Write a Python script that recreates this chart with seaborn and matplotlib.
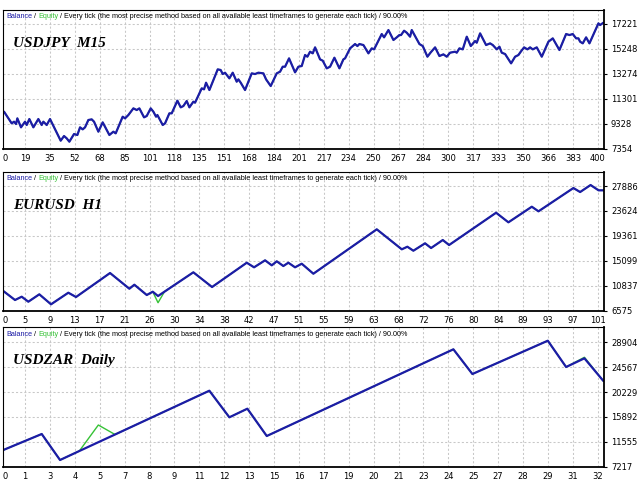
import matplotlib
import matplotlib.pyplot as plt
import seaborn as sns
from matplotlib.offsetbox import AnchoredOffsetbox, HPacker, TextArea

matplotlib.use("Agg")

# USDJPY M15 (x in tick-slot units of the strategy tester axis)
usdjpy_x = [0.157, 0.465, 0.558, 0.639, 0.692, 0.839, 1.0, 1.067, 1.174, 1.335,
            1.535, 1.669, 1.736, 1.870, 2.004, 2.432, 2.566, 2.673, 2.78, 2.968,
            3.102, 3.209, 3.316, 3.41, 3.543, 3.677, 3.771, 3.945, 4.119, 4.387,
            4.547, 4.641, 4.922, 5.016, 5.15, 5.351, 5.485, 5.592, 5.779, 5.886,
            6.047, 6.154, 6.261, 6.315, 6.529, 6.623, 6.796, 6.89, 7.118, 7.252,
            7.359, 7.493, 7.6, 7.76, 7.827, 8.095, 8.189, 8.269, 8.403, 8.738,
            8.858, 8.938, 9.032, 9.206, 9.34, 9.5, 9.567, 9.661, 9.835, 10.103,
            10.237, 10.371, 10.571, 10.679, 10.866, 11.107, 11.241, 11.348, 11.442, 11.602,
            11.843, 11.977, 12.111, 12.245, 12.339, 12.446, 12.553, 12.647, 12.847, 12.955,
            13.115, 13.249, 13.423, 13.624, 13.784, 13.851, 14.052, 14.253, 14.347, 14.427,
            14.588, 14.789, 14.923, 15.016, 15.324, 15.418, 15.592, 15.793, 15.927, 16.033,
            16.1, 16.221, 16.328, 16.462, 16.529, 16.837, 16.971, 17.158, 17.292, 17.466,
            17.64, 17.8, 17.934, 18.068, 18.269, 18.336, 18.443, 18.577, 18.738, 18.899,
            19.072, 19.139, 19.273, 19.514, 19.675, 19.782, 19.943, 20.05, 20.143, 20.277,
            20.518, 20.679, 20.812, 20.906, 21.04, 21.174, 21.281, 21.388, 21.549, 21.75,
            22.017, 22.192, 22.459, 22.727, 22.861, 22.995, 23.129, 23.222, 23.289, 23.396,
            23.53, 23.664, 24.025, 24.092, 24.226]
usdjpy_balance = [10261, 9341, 9472, 9288, 9735, 9025, 9472, 9209, 9682, 9025,
                  9682, 9209, 9472, 9209, 9682, 7972, 8341, 8157, 7893, 8498,
                  8420, 9025, 8867, 9025, 9604, 9656, 9472, 8683, 9419, 8420,
                  8683, 8551, 9867, 9735, 9998, 10524, 10393, 10524, 9814, 9919,
                  10524, 10261, 9867, 9998, 9209, 9341, 10130, 10130, 11129, 10603,
                  10709, 11103, 10603, 11051, 10971, 12103, 12024, 12550, 11971, 13603,
                  13550, 13234, 13339, 12892, 13339, 12629, 12813, 12550, 11971, 13287,
                  13234, 13339, 13287, 12813, 12287, 13287, 13418, 13813, 13813, 14471,
                  13366, 13813, 13866, 14734, 14602, 14997, 14866, 15339, 14392, 14286,
                  13682, 13813, 14523, 13682, 14392, 14471, 15260, 15602, 15444, 15602,
                  15523, 14866, 15260, 15181, 16391, 16129, 16707, 15918, 16129, 16313,
                  16313, 16654, 16496, 16181, 16707, 15602, 15444, 14602, 14945, 15339,
                  14655, 14787, 14602, 14918, 14997, 14918, 15260, 15181, 16181, 15444,
                  15839, 15707, 16444, 15523, 15655, 15523, 15181, 15391, 14918, 14813,
                  14076, 14602, 14734, 14997, 15339, 15181, 15339, 15181, 15339, 14602,
                  15786, 16050, 15129, 16391, 16313, 16391, 16050, 16050, 15786, 15655,
                  16129, 15655, 17234, 17102, 17286]
usdjpy_equity = usdjpy_balance
usdjpy_xlabels = ["0", "19", "35", "52", "68", "85", "101", "118", "135", "151", "168", "184", "201",
                  "217", "234", "250", "267", "284", "300", "317", "333", "350", "366", "383", "400"]
usdjpy_yticks = [7354, 9328, 11301, 13274, 15248, 17221]

# EURUSD H1
eurusd_x = [0.129, 0.598, 0.867, 1.133, 1.574, 2.044, 2.739, 3.048, 4.414, 5.189,
            5.39, 5.888, 6.129, 6.341, 6.6, 7.759, 8.51, 9.904, 10.197, 10.639,
            10.908, 11.109, 11.373, 11.574, 11.843, 12.112, 12.578, 15.124, 16.129, 16.353,
            16.594, 17.064, 17.305, 17.775, 18.028, 19.916, 20.41, 21.35, 21.618, 23.02,
            23.29, 23.71, 24.03, 24.25]
eurusd_balance = [9913, 8373, 8938, 8082, 9348, 7636, 9622, 8886, 12995, 10307,
                  10992, 9229, 9794, 9057, 9800, 13115, 10598, 14758, 13971, 15169,
                  14313, 14998, 14193, 14758, 13971, 14587, 12875, 20476, 17052, 17498,
                  16813, 18080, 17275, 18645, 17789, 23318, 21675, 24346, 23558, 27547,
                  26862, 28061, 27153, 27153]
eurusd_equity = [9913, 8373, 8938, 8082, 9348, 7636, 9622, 8886, 12995, 10307,
                 10992, 9229, 9794, 7910, 9800, 13115, 10598, 14758, 13971, 15169,
                 14313, 14998, 14193, 14758, 13971, 14587, 12875, 20476, 17052, 17498,
                 16813, 18080, 17275, 18645, 17789, 23318, 21675, 24346, 23558, 27547,
                 26862, 28061, 27153, 27153]
eurusd_xlabels = ["0", "5", "9", "13", "17", "21", "26", "30", "34", "38", "42", "47", "51",
                  "55", "59", "63", "68", "72", "76", "80", "84", "89", "93", "97", "101"]
eurusd_yticks = [6575, 10837, 15099, 19361, 23624, 27886]

# USDZAR Daily
usdzar_x = [0.129, 1.671, 2.406, 3.181, 3.944, 4.614, 8.402, 9.205, 9.928, 10.707,
            18.201, 18.964, 21.992, 22.727, 23.462, 24.225]
usdzar_balance = [10126, 12913, 8384, 9952, 11485, 12826, 20456, 15822, 17321, 12565,
                  27668, 23365, 29166, 24585, 26100, 22146]
usdzar_equity = [10126, 12913, 8384, 9952, 14481, 12826, 20456, 15822, 17321, 12565,
                 27668, 23365, 29166, 24585, 26280, 22146]
usdzar_xlabels = ["0", "1", "3", "4", "5", "7", "8", "9", "11", "12", "13", "15", "16",
                  "17", "19", "20", "21", "23", "24", "25", "27", "28", "29", "31", "32"]
usdzar_yticks = [7217, 11555, 15892, 20229, 24567, 28904]

BALANCE_COLOR = "#1c1ca6"
EQUITY_COLOR = "#36c236"
HEADER = " / Every tick (the most precise method based on all available least timeframes to generate each tick) / 90.00%"

sns.set_style("white")
plt.rcParams["font.family"] = "DejaVu Sans"


def draw_panel(ax, title, xs, balance, equity, xlabels, yticks, ytop):
    sns.lineplot(x=xs, y=equity, ax=ax, color=EQUITY_COLOR, linewidth=1.0,
                 sort=False, estimator=None)
    sns.lineplot(x=xs, y=balance, ax=ax, color=BALANCE_COLOR, linewidth=1.6,
                 sort=False, estimator=None)

    ax.set_xlim(0.116, 24.25)
    ax.set_ylim(yticks[0], ytop)
    ax.set_xticks([0.2] + list(range(1, 25)))
    ax.set_xticklabels(xlabels)
    ax.set_yticks(yticks)
    ax.set_yticklabels([str(v) for v in yticks])
    ax.yaxis.tick_right()
    ax.tick_params(axis="both", direction="out", length=2.5, width=0.8,
                   labelsize=6, pad=1.5, colors="black")
    ax.tick_params(axis="y", pad=2.5)
    ax.set_xlabel("")
    ax.set_ylabel("")

    ax.grid(True, color="#c8c8c8", linestyle=(0, (2, 2)), linewidth=0.75)
    ax.get_xgridlines()[0].set_visible(False)
    ax.get_ygridlines()[0].set_visible(False)
    for side, spine in ax.spines.items():
        spine.set_visible(True)
        spine.set_color("black")
        spine.set_linewidth(1.3 if side in ("bottom", "right") else 0.8)

    parts = [("Balance", BALANCE_COLOR), (" / ", "black"), ("Equity", EQUITY_COLOR), (HEADER, "black")]
    boxes = [TextArea(t, textprops=dict(color=c, fontsize=5.25, family="Liberation Sans")) for t, c in parts]
    pack = HPacker(children=boxes, align="baseline", pad=0, sep=0)
    box = AnchoredOffsetbox(loc="upper left", child=pack, pad=0, borderpad=0, frameon=False,
                            bbox_to_anchor=(0.005, 0.975), bbox_transform=ax.transAxes)
    ax.add_artist(box)

    ax.text(0.0166, 0.7365, title, transform=ax.transAxes, fontsize=11,
            family="Liberation Serif", fontweight="bold", fontstyle="italic",
            ha="left", va="baseline", color="black")


fig = plt.figure(figsize=(6.4, 4.8), dpi=100, facecolor="white")
ax1 = fig.add_axes([0.0047, 0.6906, 0.9391, 0.2885])
ax2 = fig.add_axes([0.0047, 0.3531, 0.9391, 0.2885])
ax3 = fig.add_axes([0.0047, 0.0277, 0.9391, 0.2904])

draw_panel(ax1, "USDJPY  M15", usdjpy_x, usdjpy_balance, usdjpy_equity,
           usdjpy_xlabels, usdjpy_yticks, 18286)
draw_panel(ax2, "EURUSD  H1", eurusd_x, eurusd_balance, eurusd_equity,
           eurusd_xlabels, eurusd_yticks, 30286)
draw_panel(ax3, "USDZAR  Daily", usdzar_x, usdzar_balance, usdzar_equity,
           usdzar_xlabels, usdzar_yticks, 31500)

fig.savefig("out.png", dpi=100, facecolor="white")
plt.close(fig)
